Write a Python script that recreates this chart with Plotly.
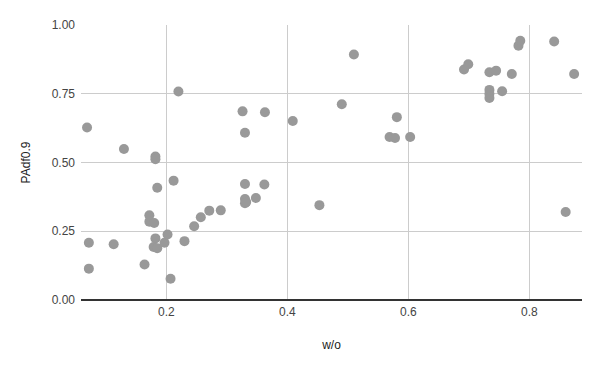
import plotly.graph_objects as go

x_vals = [0.069, 0.130, 0.182, 0.182, 0.220, 0.212, 0.185, 0.326, 0.363, 0.330, 0.409,
          0.330, 0.362,
          0.510, 0.490, 0.581, 0.569, 0.578, 0.603, 0.692, 0.699, 0.734, 0.745, 0.771,
          0.734, 0.734, 0.734, 0.755, 0.782, 0.785, 0.841, 0.874,
          0.453, 0.860,
          0.072, 0.072, 0.113, 0.164, 0.172, 0.172, 0.180, 0.182, 0.179, 0.185, 0.197,
          0.202, 0.207, 0.230, 0.246, 0.257, 0.271, 0.290, 0.330, 0.330, 0.332, 0.348]
y_vals = [0.627, 0.549, 0.522, 0.512, 0.758, 0.434, 0.408, 0.686, 0.683, 0.608, 0.651,
          0.422, 0.420,
          0.893, 0.712, 0.665, 0.593, 0.589, 0.593, 0.838, 0.857, 0.828, 0.834, 0.822,
          0.764, 0.750, 0.735, 0.759, 0.925, 0.943, 0.940, 0.822,
          0.345, 0.320,
          0.208, 0.114, 0.203, 0.129, 0.308, 0.285, 0.280, 0.224, 0.193, 0.188, 0.208,
          0.238, 0.077, 0.214, 0.268, 0.301, 0.325, 0.326, 0.367, 0.352, 0.356, 0.371]

x_title = "w/o"
y_title = "PAdf0.9"

fig = go.Figure(go.Scatter(
    x=x_vals, y=y_vals, mode="markers",
    marker=dict(color="#999999", size=10, line=dict(width=0)),
    showlegend=False,
))

font_family = "Liberation Sans, Arial, sans-serif"
# page body has an 8px margin; compensate so the plot area lands where the reference has it
fig.update_layout(
    width=600, height=371,
    margin=dict(l=73, r=26, t=17, b=79, autoexpand=False),
    paper_bgcolor="white", plot_bgcolor="white",
    font=dict(family=font_family, size=12, color="#222222"),
    xaxis=dict(
        range=[0.059, 0.887], tick0=0, dtick=0.2, tickformat=".1f",
        showgrid=True, gridcolor="#cccccc", gridwidth=1,
        zeroline=False, showline=False, ticks="",
        ticklabelstandoff=3,
        title=dict(text=x_title, standoff=22, font=dict(size=12, color="#222222")),
        tickfont=dict(size=12, color="#444444"),
    ),
    yaxis=dict(
        range=[0, 1.0], tick0=0, dtick=0.25, tickformat=".2f",
        showgrid=True, gridcolor="#cccccc", gridwidth=1,
        zeroline=True, zerolinecolor="#333333", zerolinewidth=1.5,
        showline=False, ticks="",
        ticklabelstandoff=5,
        title=dict(text=y_title, standoff=18, font=dict(size=12, color="#222222")),
        tickfont=dict(size=12, color="#444444"),
    ),
)

fig.write_html("out.html")
